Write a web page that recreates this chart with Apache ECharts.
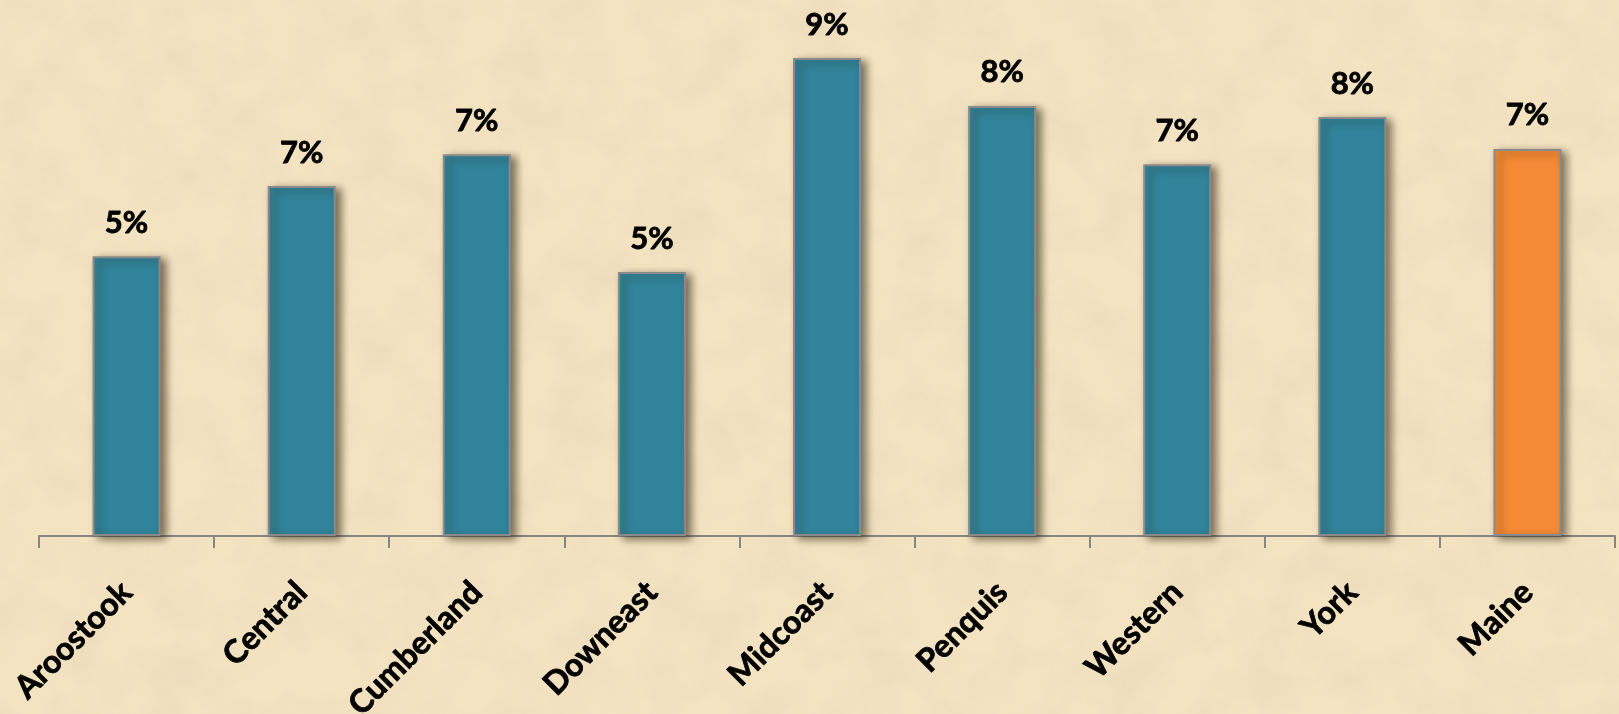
<!DOCTYPE html>
<html>
<head>
<meta charset="utf-8">
<script src="https://cdn.jsdelivr.net/npm/echarts@6/dist/echarts.min.js"></script>
<style>
  html, body { margin: 0; padding: 0; }
  body {
    width: 1619px; height: 714px; overflow: hidden;
    background-color: #f0dfba;
    background-image: url("data:image/svg+xml;utf8,<svg xmlns='http://www.w3.org/2000/svg' width='1619' height='714'><filter id='f'><feTurbulence type='fractalNoise' baseFrequency='0.02' numOctaves='4' seed='7'/><feColorMatrix type='matrix' values='0 0 0 0 0.83  0 0 0 0 0.70  0 0 0 0 0.50  1.3 0 0 0 -0.48'/></filter><rect width='100%' height='100%' fill='%23f3e3c1'/><rect width='100%' height='100%' filter='url(%23f)'/></svg>");
  }
  #chart { width: 1619px; height: 714px; }
</style>
</head>
<body>
<div id="chart"></div>
<script>
// Share of population by Maine region (percent)
const regions = ['Aroostook', 'Central', 'Cumberland', 'Downeast', 'Midcoast', 'Penquis', 'Western', 'York', 'Maine'];
const shares = [5.27, 6.59, 7.19, 4.97, 9.0, 8.1, 7.0, 7.89, 7.29];

const regionColor = '#31849b';
const stateColor = '#f58b36';

const chart = echarts.init(document.getElementById('chart'), null, { renderer: 'canvas' });

chart.setOption({
  backgroundColor: 'transparent',
  animation: false,
  grid: { left: 39, right: 4, top: 5, bottom: 178, containLabel: false, outerBoundsMode: 'none' },
  xAxis: {
    type: 'category',
    data: regions,
    axisLine: { lineStyle: { color: '#868686', width: 2 } },
    axisTick: { show: true, alignWithLabel: false, length: 12, lineStyle: { color: '#868686', width: 2 } },
    axisLabel: {
      rotate: 45,
      margin: 51,
      color: '#000',
      fontFamily: 'Lato',
      fontWeight: 'bold',
      fontSize: 32,
      textBorderColor: '#000',
      textBorderWidth: 0.8,
      interval: 0
    }
  },
  yAxis: {
    type: 'value',
    min: 0,
    max: 10,
    show: false
  },
  series: [{
    type: 'bar',
    data: shares.map((v, i) => ({
      value: v,
      itemStyle: { color: i === regions.length - 1 ? stateColor : regionColor }
    })),
    barWidth: 68,
    itemStyle: {
      borderColor: '#8a8a8a',
      borderWidth: 2,
      shadowColor: 'rgba(40,30,10,0.6)',
      shadowBlur: 8,
      shadowOffsetX: 5,
      shadowOffsetY: 3
    },
    label: {
      show: true,
      position: 'top',
      distance: 18,
      color: '#000',
      fontFamily: 'Lato',
      fontWeight: 'bold',
      fontSize: 31,
      textBorderColor: '#000',
      textBorderWidth: 0.8,
      formatter: p => Math.round(p.value) + '%'
    }
  }]
});
</script>
</body>
</html>
